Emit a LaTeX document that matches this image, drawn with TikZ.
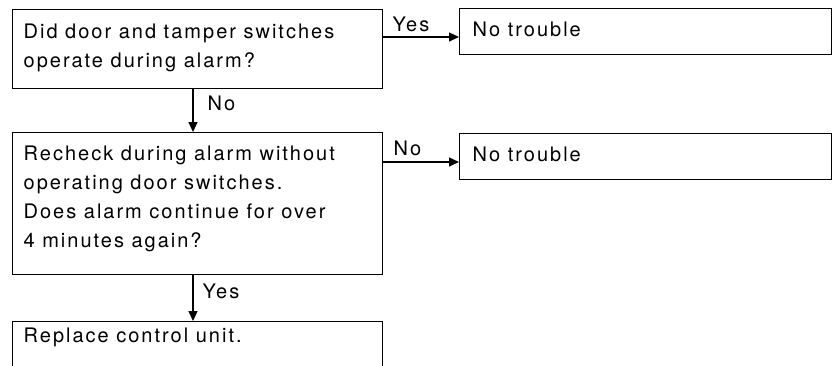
\documentclass[tikz,border=0pt]{standalone}
\usepackage{fontspec}
\setmainfont{TeX Gyre Heros}[LetterSpace=10]
\usetikzlibrary{arrows.meta}
\begin{document}
\begin{tikzpicture}[x=1pt,y=-1pt,
  line width=1.3pt,
  every node/.style={font=\fontsize{20}{29}\selectfont},
  box/.style={draw, rectangle, anchor=north west, inner sep=0pt},
  txt/.style={anchor=base west, inner sep=0pt, align=left},
  lbl/.style={anchor=base west, inner sep=0pt},
  arr/.style={-{Triangle[length=10pt,width=9pt]}}]
\useasboundingbox (0,0) rectangle (832,365);
\clip (0,0) rectangle (832,365);

% question boxes
\node[box, minimum width=370pt, minimum height=79pt] (q1) at (12,9) {};
\node[box, minimum width=370pt, minimum height=142pt] (q2) at (12,132) {};
\node[box, minimum width=370pt, minimum height=60pt] (q3) at (12,321) {};

% result boxes
\node[box, minimum width=372pt, minimum height=46pt] (r1) at (459,8) {};
\node[box, minimum width=372pt, minimum height=46pt] (r2) at (459,133) {};

% box texts (anchored at the baseline of the last line)
\node[txt] (q1t) at (23,67) {Did door and tamper switches\\operate during alarm?};
\node[txt] (q2t) at (23,247) {Recheck during alarm without\\operating door switches.\\Does alarm continue for over\\4 minutes again?};
\node[txt] (q3t) at (23,342) {Replace control unit.};
\node[txt] (r1t) at (472,36) {No trouble};
\node[txt] (r2t) at (472,161) {No trouble};

% connectors
\draw[arr] (q1.south -| 193,0) -- (q2.north -| 193,0);
\draw[arr] (q2.south -| 193,0) -- (q3.north -| 193,0);
\draw[arr] (q1.east |- 0,37) -- (r1.west |- 0,37);
\draw[arr] (q2.east |- 0,162) -- (r2.west |- 0,162);

% branch labels
\node[lbl] (l1) at (392,31) {Yes};
\node[lbl] (l2) at (207,110) {No};
\node[lbl] (l3) at (393,155) {No};
\node[lbl] (l4) at (202,298) {Yes};
\end{tikzpicture}
\end{document}
